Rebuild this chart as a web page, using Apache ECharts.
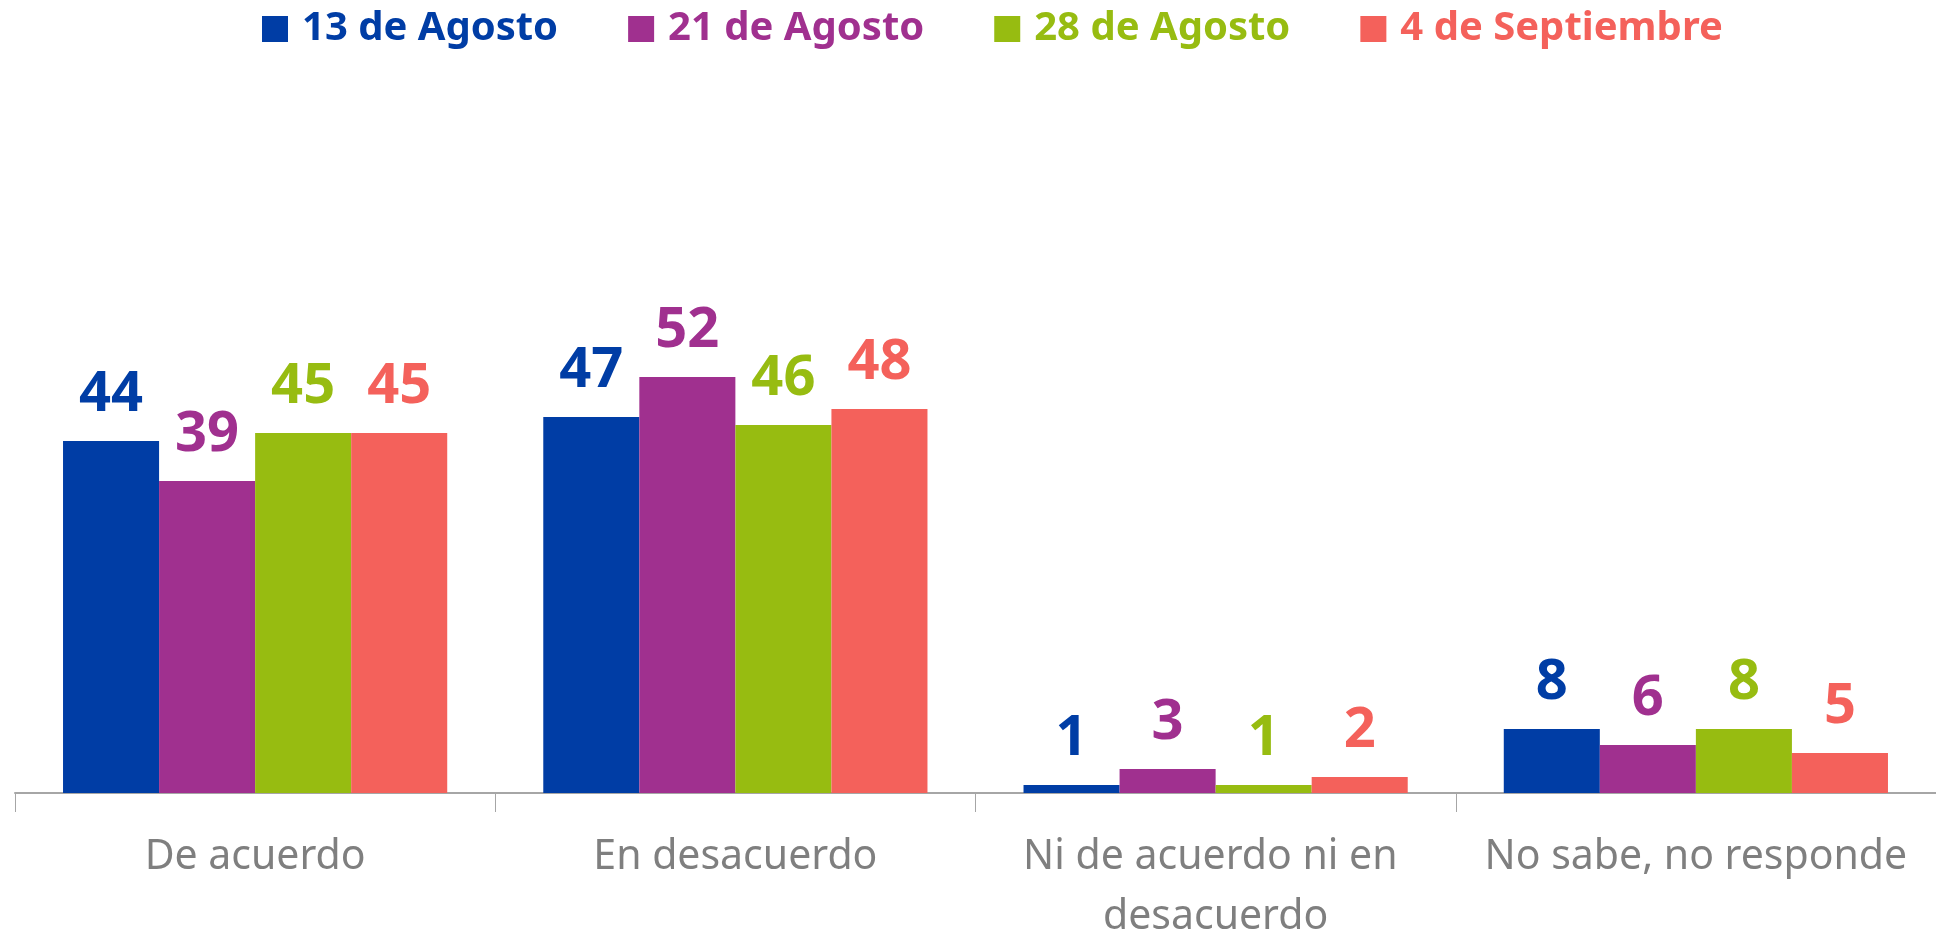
<!DOCTYPE html>
<html>
<head>
<meta charset="utf-8">
<script src="https://cdn.jsdelivr.net/npm/echarts@6/dist/echarts.min.js"></script>
<style>
  html, body { margin: 0; padding: 0; background: #fff; }
  #chart { width: 1936px; height: 934px; }
</style>
</head>
<body>
<div id="chart"></div>
<script>
// == Data ====================================================================

const categories = ['De acuerdo', 'En desacuerdo', 'Ni de acuerdo ni en desacuerdo', 'No sabe, no responde']
const seriesNames = ['13 de Agosto', '21 de Agosto', '28 de Agosto', '4 de Septiembre']
const ago13 = [44, 47, 1, 8]
const ago21 = [39, 52, 3, 6]
const ago28 = [45, 46, 1, 8]
const sep4 = [45, 48, 2, 5]
const colors = ['#003DA5', '#A0308F', '#97BC11', '#F4615B']

// == Chart ===================================================================

const font = '"Noto Sans", sans-serif'

const makeSeries = (name, data, color) => ({
  name,
  type: 'bar',
  data,
  barGap: '0%',
  barCategoryGap: '20%',
  itemStyle: {color},
  label: {
    show: true,
    position: 'top',
    distance: 18,
    color,
    fontFamily: font,
    fontWeight: 'bold',
    fontSize: 56
  }
})

const chart = echarts.init(document.getElementById('chart'))
chart.setOption({
  animation: false,
  color: colors,
  legend: {
    left: 257,
    top: 4,
    itemWidth: 26,
    itemHeight: 26,
    itemGap: 70,
    icon: 'rect',
    textStyle: {fontFamily: font, fontWeight: 'bold', fontSize: 40, padding: [0, 0, 0, 9]},
    data: seriesNames.map((n, i) => ({name: n, textStyle: {color: colors[i]}}))
  },
  grid: {left: 15, right: 0, top: 313, bottom: 141, containLabel: false, outerBoundsMode: 'none'},
  xAxis: {
    type: 'category',
    data: categories,
    axisLine: {lineStyle: {color: '#A6A6A6', width: 2}},
    axisTick: {show: true, length: 19, lineStyle: {color: '#A6A6A6', width: 1}},
    axisLabel: {
      color: '#7F7F7F',
      fontFamily: font,
      fontSize: 41,
      lineHeight: 60,
      margin: 34,
      width: 450,
      overflow: 'break',
      interval: 0
    }
  },
  yAxis: {type: 'value', min: 0, max: 60, show: false, splitLine: {show: false}},
  series: [
    makeSeries(seriesNames[0], ago13, colors[0]),
    makeSeries(seriesNames[1], ago21, colors[1]),
    makeSeries(seriesNames[2], ago28, colors[2]),
    makeSeries(seriesNames[3], sep4, colors[3])
  ]
})
</script>
</body>
</html>
